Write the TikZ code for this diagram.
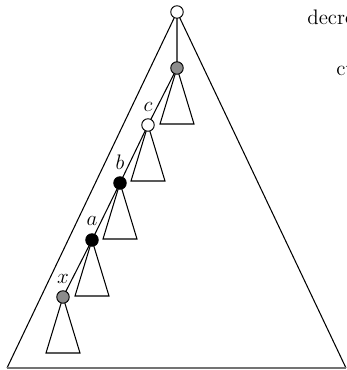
\documentclass[tikz,border=0pt]{standalone}
\usetikzlibrary{backgrounds}
\begin{document}
\begin{tikzpicture}[x=0.5714pt,y=-0.5714pt,
  vtx/.style={circle,draw=black,line width=0.55pt,minimum size=12.5*0.5714pt,inner sep=0pt},
  whitev/.style={vtx,fill=white},
  grayv/.style={vtx,fill=black!45},
  blackv/.style={vtx,fill=black},
  edge/.style={line width=0.6pt},
  lbl/.style={inner sep=0pt,font=\large}]
\useasboundingbox (0,0) rectangle (347,370);
\node[whitev] (root) at (177,12) {};
\node[grayv] (g) at (177,68) {};
\node[whitev] (c) at (148,125) {};
\node[blackv] (b) at (120,183) {};
\node[blackv] (a) at (92,240) {};
\node[grayv] (xn) at (63,297) {};
\node[lbl] (lc) at (148,107) {$c$};
\node[lbl] (lb) at (120,162) {$b$};
\node[lbl] (la) at (92,221) {$a$};
\node[lbl] (lx) at (63,279) {$x$};
\node[lbl,anchor=base west] (t1) at (307,24) {decre};
\node[lbl,anchor=base west] (t2) at (336,75) {cu};
\coordinate (bl) at (7,368);
\coordinate (br) at (346,368);
\begin{pgfonlayer}{background}
\draw[edge] (bl) -- (root.center) -- (br);
\draw[edge,black!55] (bl) -- (br);
\draw[edge] (root.center) -- (g.center) -- (c.center) -- (b.center) -- (a.center) -- (xn.center);
\foreach \n in {g,c,b,a,xn}{
  \draw[edge] (\n.center) -- ++(-17,56) -- ++(34,0) -- cycle;
}
\end{pgfonlayer}
\end{tikzpicture}
\end{document}
